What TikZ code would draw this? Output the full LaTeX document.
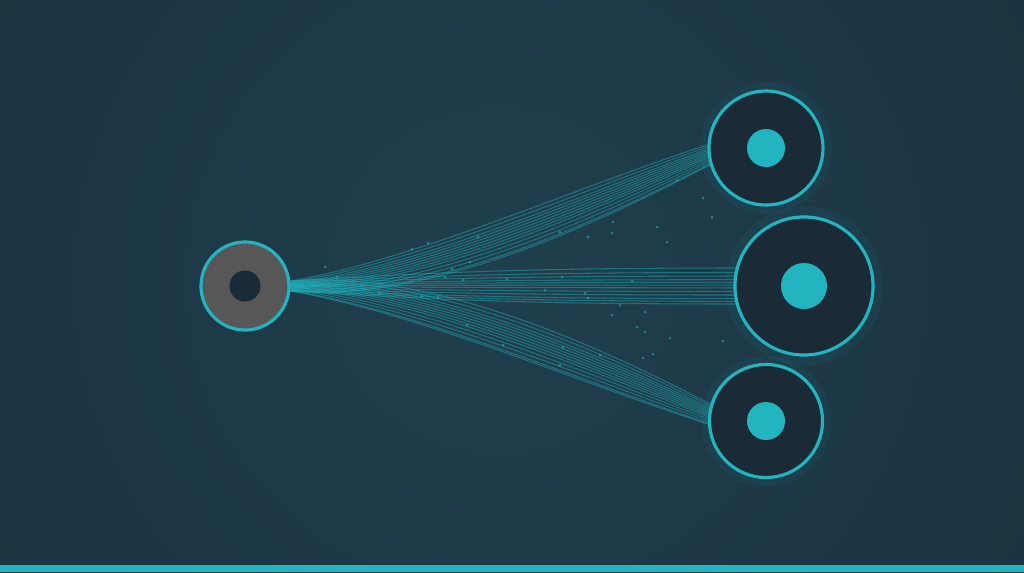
\documentclass[tikz,border=0pt]{standalone}
\usetikzlibrary{calc,positioning,backgrounds}
\definecolor{bgdark}{HTML}{1A2835}
\definecolor{bglight}{HTML}{1F3F4D}
\definecolor{ringteal}{HTML}{22B5BF}
\definecolor{coredark}{HTML}{1B2A37}
\definecolor{srcgray}{HTML}{575757}

\begin{document}
\begin{tikzpicture}[x=0.01cm,y=-0.01cm,
	ring/.style={circle,draw=ringteal,line width=0.9pt,fill=coredark,inner sep=0pt},
	strand/.style={ringteal,line width=0.3pt,opacity=0.45},
	speck/.style={ringteal,opacity=0.6},
	halo/.style={ringteal,opacity=0.06}]
	\useasboundingbox (0,0) rectangle (1024,572);

	% rings
	\node[ring,fill=srcgray,minimum size=0.88cm] (src) at (245,286) {};
	\node[ring,minimum size=1.14cm] (top) at (766,148) {};
	\node[ring,minimum size=1.38cm] (mid) at (804,286) {};
	\node[ring,minimum size=1.13cm] (bot) at (766,421) {};

	\fill[coredark] (src) circle (0.155cm);
	\fill[ringteal] (top) circle (0.19cm);
	\fill[ringteal] (mid) circle (0.23cm);
	\fill[ringteal] (bot) circle (0.19cm);

	\begin{pgfonlayer}{background}
	\begin{scope}
		\clip (0,0) rectangle (1024,572);
		\fill[bgdark] (0,0) rectangle (1024,572);
		\shade[inner color=bglight,outer color=bgdark] (500,280) circle (11.5cm);
	\end{scope}
	\fill[ringteal] (0,565) rectangle (1024,572);

	\fill[halo] (top) circle (0.66cm);
	\fill[halo] (mid) circle (0.79cm);
	\fill[halo] (bot) circle (0.65cm);

	% strands to the upper ring
	\foreach \s in {-1,-0.8,-0.6,-0.45,-0.3,-0.15,0,0.15,0.3,0.5,0.7,0.9,1}
		\draw[strand] ($(src.east)+(0,5*\s)$) .. controls ($(src.east)+(131,-6+22*\s)$)
			and ($(top.west)+(-129,62+24*\s)$) .. ($(top.west)+(6,5+10*\s)$);
	% strands to the lower ring
	\foreach \s in {-1,-0.8,-0.6,-0.45,-0.3,-0.15,0,0.15,0.3,0.5,0.7,0.9,1}
		\draw[strand] ($(src.east)+(0,5*\s)$) .. controls ($(src.east)+(131,6+22*\s)$)
			and ($(bot.west)+(-129,-62+24*\s)$) .. ($(bot.west)+(6,-5+10*\s)$);
	% strands to the middle ring
	\foreach \s in {-1,-0.75,-0.55,-0.35,-0.2,-0.05,0.1,0.3,0.5,0.7,0.85,1}
		\draw[strand] ($(src.east)+(0,5*\s)$) .. controls ($(src.east)+(150,14*\s)$)
			and ($(mid.west)+(-200,18*\s)$) .. ($(mid.west)+(6,18*\s)$);

	% specks
	\foreach \p in {(677,180),(703,198),(712,217),(657,227),(613,222),(588,237),(612,233),
		(560,232),(667,242),(428,243),(412,249),(478,237),(470,262),(452,269),(445,277),
		(463,280),(507,279),(562,277),(632,281),(545,290),(585,293),(588,298),(422,296),
		(438,297),(620,305),(612,315),(645,312),(637,327),(645,332),(723,341),(670,338),
		(600,355),(653,354),(643,358),(563,347),(560,365),(503,345),(467,325),(362,286),
		(337,277),(325,267),(380,293)}
		\fill[speck] \p circle (0.015cm);
	\end{pgfonlayer}
\end{tikzpicture}
\end{document}
